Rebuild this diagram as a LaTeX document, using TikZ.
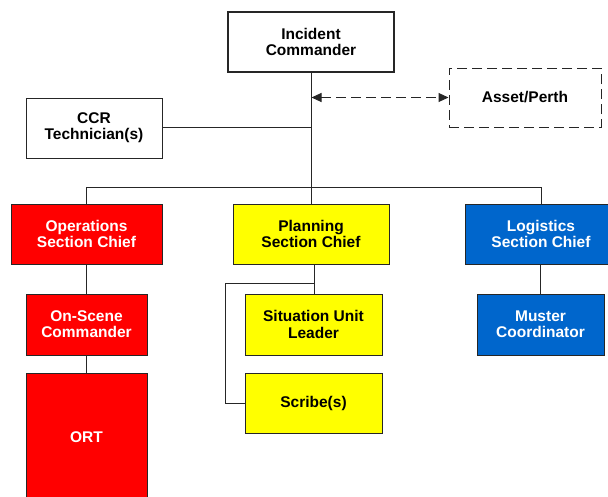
\documentclass[tikz,border=0pt]{standalone}
\usepackage{fontspec}
\setmainfont{Liberation Sans}
\usetikzlibrary{arrows.meta}
\definecolor{opsred}{RGB}{255,0,0}
\definecolor{planyellow}{RGB}{255,255,0}
\definecolor{logblue}{RGB}{0,102,204}
\tikzset{
  box/.style={draw=black!85, line width=1pt, inner sep=0pt, align=center,
    font=\fontsize{15.5}{16.3}\selectfont\bfseries},
  ops/.style={box, fill=opsred, text=white},
  plan/.style={box, fill=planyellow, text=black},
  logi/.style={box, fill=logblue, text=white},
  link/.style={draw=black!85, line width=1pt},
  dashlink/.style={link, dash pattern=on 10pt off 5pt},
  twoway/.style={dashlink, >={Triangle[length=10pt,width=9pt]}, <->},
}
\begin{document}
\begin{tikzpicture}[x=1pt, y=-1pt]
\useasboundingbox (0,0) rectangle (608,496);

% command level
\node[box, line width=2pt, minimum width=166pt, minimum height=60pt] (ic) at (311,42) {Incident\\Commander};
\node[box, dashlink, minimum width=152pt, minimum height=59pt] (asset) at (525,97.5) {Asset/Perth};
\node[box, minimum width=136pt, minimum height=60pt] (ccr) at (94,128) {CCR\\Technician(s)};

% section chiefs
\node[ops, minimum width=151pt, minimum height=60pt] (opsc) at (86.5,234) {Operations\\Section Chief};
\node[plan, minimum width=156pt, minimum height=60pt] (plsc) at (311,234) {Planning\\Section Chief};
\node[logi, minimum width=152pt, minimum height=60pt] (losc) at (541,234) {Logistics\\Section Chief};

% units
\node[ops, minimum width=121pt, minimum height=61pt] (osc) at (86.5,324.5) {On-Scene\\Commander};
\node[ops, minimum width=121pt, minimum height=128pt] (ort) at (86.5,437) {ORT};
\node[plan, minimum width=137pt, minimum height=61pt] (sul) at (313.5,324.5) {Situation Unit\\Leader};
\node[plan, minimum width=137pt, minimum height=60pt] (scribe) at (313.5,403) {Scribe(s)};
\node[logi, minimum width=127pt, minimum height=61pt] (muster) at (540.5,324.5) {Muster\\Coordinator};

% junction points
\coordinate (bus) at (311.5,187.5);
\coordinate (ccrj) at (311.5,127.5);
\coordinate (assetj) at (311.5,97.5);
\coordinate (plj) at (314.5,283.5);
\coordinate (bracket) at (225.5,283.5);

% trunk and bus
\draw[link] (ic.south -| bus) -- (bus);
\draw[link] (ccr.east |- ccrj) -- (ccrj);
\draw[twoway] (assetj) -- (asset.west);
\draw[link] (opsc.north) |- (bus) -| (losc.north);
\draw[link] (bus) -- (plsc.north -| bus);

% operations branch
\draw[link] (opsc.south) -- (osc.north);
\draw[link] (osc.south) -- (ort.north);

% planning branch
\draw[link] (plsc.south -| plj) -- (sul.north -| plj);
\draw[link] (plj) -- (bracket) |- (scribe.west);

% logistics branch
\draw[link] (losc.south -| muster.north) -- (muster.north);
\end{tikzpicture}
\end{document}
